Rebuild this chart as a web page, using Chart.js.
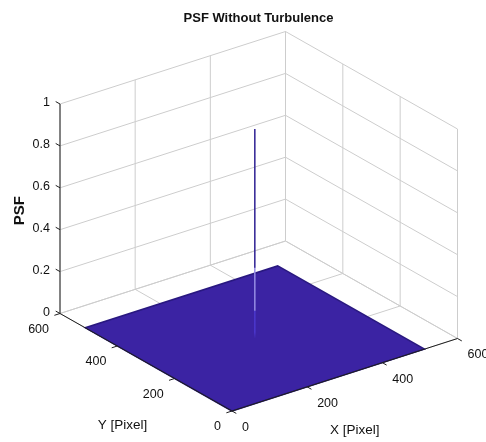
<!DOCTYPE html>
<html><head><meta charset="utf-8">
<script src="https://cdn.jsdelivr.net/npm/chart.js@4/dist/chart.umd.min.js"></script>
<style>html,body{margin:0;padding:0;background:#fff;}#wrap{width:486px;height:442px;}</style>
</head><body><div id="wrap"><canvas id="c" width="486" height="442"></canvas></div>
<script>
// ---------- data ----------
const titleText = 'PSF Without Turbulence';
const xLabel = 'X [Pixel]';
const yLabel = 'Y [Pixel]';
const zLabel = 'PSF';
const xTicks = [0, 200, 400, 600];
const yTicks = [0, 200, 400, 600];
const zTicks = [0, 0.2, 0.4, 0.6, 0.8, 1];
const xTickLabels = ['0', '200', '400', '600'];
const yTickLabels = ['0', '200', '400', '600'];
const zTickLabels = ['0', '0.2', '0.4', '0.6', '0.8', '1'];
const xLimits = [0, 600];
const yLimits = [0, 600];
const zLimits = [0, 1];
const surfaceXExtent = [0, 512];
const surfaceYExtent = [0, 512];
const surfaceBaseValue = [0];
const peakX = [256];
const peakY = [256];
const peakValue = [1];

// ---------- view (orthographic projection of the 3-D box) ----------
const VIEW = { origin: [232, 411], ex: [225.5, -72.5], ey: [-172, -97.5], ez: [0, -209.5] };
function proj(x, y, z) {
  const u = (x - xLimits[0]) / (xLimits[1] - xLimits[0]);
  const v = (y - yLimits[0]) / (yLimits[1] - yLimits[0]);
  const w = (z - zLimits[0]) / (zLimits[1] - zLimits[0]);
  return {
    x: VIEW.origin[0] + u * VIEW.ex[0] + v * VIEW.ey[0] + w * VIEW.ez[0],
    y: VIEW.origin[1] + u * VIEW.ex[1] + v * VIEW.ey[1] + w * VIEW.ez[1]
  };
}
const GAP = { x: null, y: null };
function segs(list) {
  const out = [];
  list.forEach(s => { out.push(proj(...s[0]), proj(...s[1]), GAP); });
  return out;
}
const X0 = xLimits[0], X1 = xLimits[1], Y0 = yLimits[0], Y1 = yLimits[1], Z0 = zLimits[0], Z1 = zLimits[1];

// grid lines on the floor and the two back walls
const gridSegs = [];
xTicks.forEach(x => { gridSegs.push([[x, Y0, Z0], [x, Y1, Z0]]); gridSegs.push([[x, Y1, Z0], [x, Y1, Z1]]); });
yTicks.forEach(y => { gridSegs.push([[X0, y, Z0], [X1, y, Z0]]); gridSegs.push([[X1, y, Z0], [X1, y, Z1]]); });
zTicks.forEach(z => { gridSegs.push([[X0, Y1, z], [X1, Y1, z]]); gridSegs.push([[X1, Y1, z], [X1, Y0, z]]); });

// axis lines and tick marks
const tx = (X1 - X0) * 0.025, ty = (Y1 - Y0) * 0.025;
const axisSegs = [
  [[X0, Y0, Z0], [X1, Y0, Z0]],
  [[X0, Y0, Z0], [X0, Y1, Z0]],
  [[X0, Y1, Z0], [X0, Y1, Z1]]
];
xTicks.forEach(x => axisSegs.push([[x, Y0, Z0], [x, Y0 - ty, Z0]]));
yTicks.forEach(y => axisSegs.push([[X0, y, Z0], [X0 - tx, y, Z0]]));
zTicks.forEach(z => axisSegs.push([[X0, Y1, z], [X0, Y1 + ty, z]]));

// surface (flat floor of the PSF) and the peak
const zb = surfaceBaseValue[0];
const surfacePts = [
  proj(surfaceXExtent[0], surfaceYExtent[0], zb),
  proj(surfaceXExtent[1], surfaceYExtent[0], zb),
  proj(surfaceXExtent[1], surfaceYExtent[1], zb),
  proj(surfaceXExtent[0], surfaceYExtent[1], zb),
  proj(surfaceXExtent[0], surfaceYExtent[0], zb)
];
const peakPts = [];
peakX.forEach((px, i) => { peakPts.push(proj(px, peakY[i], zb), proj(px, peakY[i], peakValue[i]), GAP); });

const FONT = '"Liberation Sans", Arial, Helvetica, sans-serif';

const textPlugin = {
  id: 'text3d',
  afterDatasetsDraw(chart) {
    const ctx = chart.ctx, sx = chart.scales.x, sy = chart.scales.y;
    const P = (x, y, z) => { const p = proj(x, y, z); return [sx.getPixelForValue(p.x), sy.getPixelForValue(p.y)]; };
    ctx.save();
    ctx.fillStyle = '#111111';
    ctx.font = '12.5px ' + FONT;
    ctx.textBaseline = 'middle';
    ctx.textAlign = 'right';
    zTicks.forEach((z, i) => { const [a, b] = P(X0, Y1, z); ctx.fillText(zTickLabels[i], a - 10, b - 1); });
    yTicks.forEach((y, i) => { const [a, b] = P(X0, y, Z0); ctx.fillText(yTickLabels[i], a - 11, b + 16); });
    ctx.textAlign = 'left';
    xTicks.forEach((x, i) => { const [a, b] = P(x, Y0, Z0); ctx.fillText(xTickLabels[i], a + 10, b + 16.5); });
    ctx.font = '13.5px ' + FONT;
    ctx.textAlign = 'center';
    let [a, b] = P((X0 + X1) / 2, Y0, Z0);
    ctx.fillText(xLabel, a + 10, b + 55.5);
    [a, b] = P(X0, (Y0 + Y1) / 2, Z0);
    ctx.fillText(yLabel, a - 23.5, b + 63.5);
    [a, b] = P(X0, Y1, (Z0 + Z1) / 2);
    ctx.save();
    ctx.translate(a - 40, b + 2);
    ctx.rotate(-Math.PI / 2);
    ctx.font = 'bold 15px ' + FONT;
    ctx.fillText(zLabel, 0, 0);
    ctx.restore();
    ctx.font = 'bold 13px ' + FONT;
    ctx.fillText(titleText, chart.width / 2 + 15.5, 18.5);
    ctx.restore();
  }
};

function spikeColor(ctx) {
  const chart = ctx.chart;
  const sy = chart.scales && chart.scales.y;
  if (!sy || !chart.chartArea) return '#2e2090';
  const b = proj(peakX[0], peakY[0], zb), t = proj(peakX[0], peakY[0], peakValue[0]);
  const yb = sy.getPixelForValue(b.y), yt = sy.getPixelForValue(t.y);
  if (!isFinite(yb) || !isFinite(yt) || yb === yt) return '#2e2090';
  const g = chart.ctx.createLinearGradient(0, yb, 0, yt);
  g.addColorStop(0, 'rgba(75,55,205,0)');
  g.addColorStop(0.03, 'rgba(75,55,205,1)');
  g.addColorStop(0.13, 'rgba(75,55,205,1)');
  g.addColorStop(0.135, 'rgb(150,140,228)');
  g.addColorStop(0.335, 'rgb(150,140,228)');
  g.addColorStop(0.34, '#2d1f92');
  g.addColorStop(1, '#2d1f92');
  return g;
}

new Chart(document.getElementById('c'), {
  type: 'scatter',
  data: {
    datasets: [
      { label: 'axes', data: segs(axisSegs), showLine: true, borderColor: '#1e1e1e', borderWidth: 1, pointRadius: 0, spanGaps: false, order: 0 },
      { label: 'peak', data: peakPts, showLine: true, borderColor: spikeColor, borderWidth: 1.5, pointRadius: 0, spanGaps: false, order: 1 },
      { label: 'surface', data: surfacePts, showLine: true, fill: 'shape', backgroundColor: '#3b23a3', borderColor: '#291880', borderWidth: 1.5, pointRadius: 0, order: 2 },
      { label: 'grid', data: segs(gridSegs), showLine: true, borderColor: '#cdcdcd', borderWidth: 1, pointRadius: 0, spanGaps: false, order: 3 }
    ]
  },
  options: {
    responsive: false,
    animation: false,
    devicePixelRatio: 1,
    layout: { padding: 0 },
    plugins: { legend: { display: false }, tooltip: { enabled: false }, title: { display: false } },
    scales: {
      x: { type: 'linear', min: 0, max: 486, display: false },
      y: { type: 'linear', min: 0, max: 442, reverse: true, display: false }
    },
    elements: { line: { tension: 0 } }
  },
  plugins: [textPlugin]
});
</script></body></html>
